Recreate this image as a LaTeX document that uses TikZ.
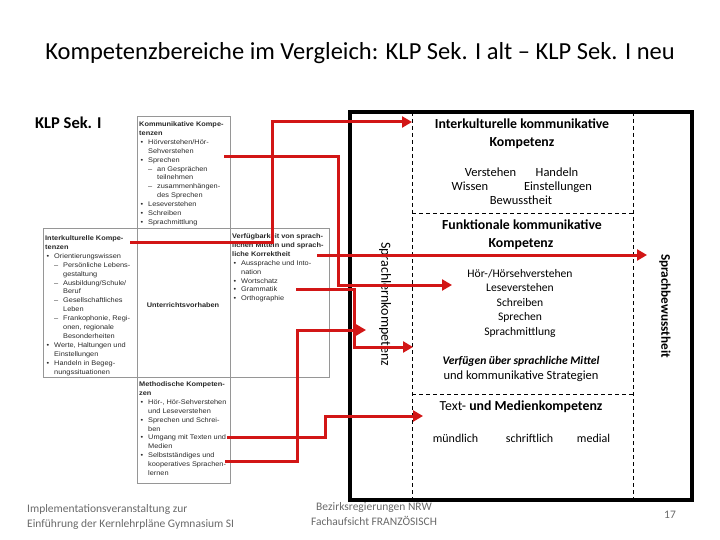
\documentclass[tikz,border=0pt]{standalone}
\usepackage{fontspec}
\setmainfont{Carlito}
\newfontfamily\arialf[FakeStretch=1.1]{Liberation Sans}
\usetikzlibrary{arrows.meta}
\definecolor{arrred}{RGB}{210,22,22}
\definecolor{tablegray}{RGB}{150,150,150}
\definecolor{tabletext}{RGB}{40,40,40}
\definecolor{footgray}{RGB}{105,105,105}
\newcommand\tbul{\hspace*{1.5pt}\makebox[7.5pt][l]{\textbullet}}
\newcommand\tind{\hspace*{9pt}}
\newcommand\tsub{\hspace*{9pt}\makebox[9pt][l]{–}}
\newcommand\tsind{\hspace*{18pt}}
\begin{document}
\begin{tikzpicture}[x=1pt,y=-1pt,
  redarr/.style={draw=arrred, line width=3pt, -{Triangle[length=10pt,width=11pt]}},
  tbox/.style={draw=tablegray, line width=0.8pt},
  ttext/.style={anchor=north west, inner sep=0pt, align=left, text=tabletext,
    font=\arialf\fontsize{6.7}{8.9}\selectfont},
  frame/.style={draw=black, line width=3.5pt},
  dashln/.style={draw=black, line width=0.7pt, dash pattern=on 4pt off 3pt},
  head/.style={anchor=base, inner sep=0pt, font=\bfseries\fontsize{13.8}{16}\selectfont},
  body/.style={anchor=base, inner sep=0pt, font=\fontsize{12.5}{14}\selectfont},
  lst/.style={anchor=base, inner sep=0pt, font=\fontsize{11.6}{14}\selectfont},
  foot/.style={inner sep=0pt, text=footgray, font=\fontsize{11.5}{14.5}\selectfont}]
\useasboundingbox (0,0) rectangle (720,540);

% title
\node[anchor=base, inner sep=0pt, font=\fontsize{24.5}{28}\selectfont] (title) at (360,59.3)
  {Kompetenzbereiche im Vergleich: KLP Sek. I alt – KLP Sek. I neu};
\node[anchor=base west, inner sep=0pt, font=\bfseries\fontsize{16.5}{20}\selectfont] (klp) at (35,128.3) {KLP Sek. I};

% old table
\draw[tbox] (137,116) rectangle (230,228);
\draw[tbox] (43,228) rectangle (137,377);
\draw[tbox] (137,228) rectangle (230,377);
\draw[tbox] (230,228) rectangle (329,377);
\draw[tbox] (137,377) rectangle (230,483);

\node[ttext] (kk) at (139,121.5) {\textbf{Kommunikative Kompe-}\\\textbf{tenzen}\\\tbul Hörverstehen/Hör-\\\tind Sehverstehen\\\tbul Sprechen\\\tsub an Gesprächen\\\tsind teilnehmen\\\tsub zusammenhängen-\\\tsind des Sprechen\\\tbul Leseverstehen\\\tbul Schreiben\\\tbul Sprachmittlung};

\node[ttext] (ik) at (45,235.5) {\textbf{Interkulturelle Kompe-}\\\textbf{tenzen}\\\tbul Orientierungswissen\\\tsub Persönliche Lebens-\\\tsind gestaltung\\\tsub Ausbildung/Schule/\\\tsind Beruf\\\tsub Gesellschaftliches\\\tsind Leben\\\tsub Frankophonie, Regi-\\\tsind onen, regionale\\\tsind Besonderheiten\\\tbul Werte, Haltungen und\\\tind Einstellungen\\\tbul Handeln in Begeg-\\\tind nungssituationen};

\node[inner sep=0pt, text=tabletext, font=\arialf\bfseries\fontsize{6.7}{8.9}\selectfont] (uv) at (183,305) {Unterrichtsvorhaben};

\node[ttext] (vm) at (232,233.5) {\textbf{Verfügbarkeit von sprach-}\\\textbf{lichen Mitteln und sprach-}\\\textbf{liche Korrektheit}\\\tbul Aussprache und Into-\\\tind nation\\\tbul Wortschatz\\\tbul Grammatik\\\tbul Orthographie};

\node[ttext] (mk) at (139,381.5) {\textbf{Methodische Kompeten-}\\\textbf{zen}\\\tbul Hör-, Hör-Sehverstehen\\\tind und Leseverstehen\\\tbul Sprechen und Schrei-\\\tind ben\\\tbul Umgang mit Texten und\\\tind Medien\\\tbul Selbstständiges und\\\tind kooperatives Sprachen-\\\tind lernen};

% new frame
\draw[dashln] (412,112) -- (412,500);
\draw[dashln] (633,112) -- (633,500);
\draw[dashln] (412,213) -- (633,213);
\draw[dashln] (412,394) -- (633,394);
\draw[frame] (350,112) rectangle (692,500);

\node[head] (ik1) at (522,128.5) {Interkulturelle kommunikative};
\node[head] (ik2) at (522,146.5) {Kompetenz};
\node[body] (ver) at (490.5,177) {Verstehen};
\node[body] (han) at (557,177) {Handeln};
\node[body] (wis) at (470,191) {Wissen};
\node[body] (ein) at (558,191) {Einstellungen};
\node[body] (bew) at (521,205) {Bewusstheit};

\node[head] (fk1) at (522,229.5) {Funktionale kommunikative};
\node[head] (fk2) at (521,247.5) {Kompetenz};
\node[lst] (hoe) at (520,277) {Hör-/Hörsehverstehen};
\node[lst] (les) at (520,291.5) {Leseverstehen};
\node[lst] (sch) at (520,306) {Schreiben};
\node[lst] (spr) at (520,320.5) {Sprechen};
\node[lst] (spm) at (520,335) {Sprachmittlung};
\node[body, font=\bfseries\itshape\fontsize{11.6}{14}\selectfont] (vsm) at (521,364) {Verfügen über sprachliche Mittel};
\node[body] (uks) at (521,379) {und kommunikative Strategien};

\node[head, font=\fontsize{13.8}{16}\selectfont] (tmk) at (521,410.5) {Text- \textbf{und Medienkompetenz}};
\node[body, font=\fontsize{12}{14}\selectfont] (mue) at (455.5,442) {mündlich};
\node[body, font=\fontsize{12}{14}\selectfont] (scf) at (529.5,442) {schriftlich};
\node[body, font=\fontsize{12}{14}\selectfont] (med) at (593.5,442) {medial};

\node[rotate=-90, inner sep=0pt, font=\fontsize{14}{16}\selectfont] (slk) at (385,304) {Sprachlernkompetenz};
\node[rotate=-90, inner sep=0pt, font=\bfseries\fontsize{13.2}{16}\selectfont] (sbw) at (665,306) {Sprachbewusstheit};

% red arrows
\coordinate (s1) at (130,242); \coordinate (e1) at (412,122);
\coordinate (s2) at (224,157); \coordinate (e2) at (452,285);
\coordinate (s3) at (317,255); \coordinate (e3) at (647,255);
\coordinate (s4) at (296,289); \coordinate (e4) at (413,347);
\coordinate (s5) at (225,461); \coordinate (e5) at (366,330);
\coordinate (s6) at (227,437); \coordinate (e6) at (423,416);
\draw[redarr] (s1) -- ++(142,0) |- (e1);
\draw[redarr] (s2) -- ++(114,0) |- (e2);
\draw[redarr] (s3) -- (e3);
\draw[redarr] (s4) -- ++(58,0) |- (e4);
\draw[redarr] (s5) -- ++(72,0) |- (e5);
\draw[redarr] (s6) -- ++(98,0) |- (e6);

% footer
\node[foot, anchor=base west] (f1) at (27,512.5) {Implementationsveranstaltung zur};
\node[foot, anchor=base west] (f2) at (27,527) {Einführung der Kernlehrpläne Gymnasium SI};
\node[foot, anchor=base] (f3) at (374,510.5) {Bezirksregierungen NRW};
\node[foot, anchor=base] (f4) at (374,525.5) {Fachaufsicht FRANZÖSISCH};
\node[foot, anchor=base] (pg) at (670,518) {17};
\end{tikzpicture}
\end{document}
